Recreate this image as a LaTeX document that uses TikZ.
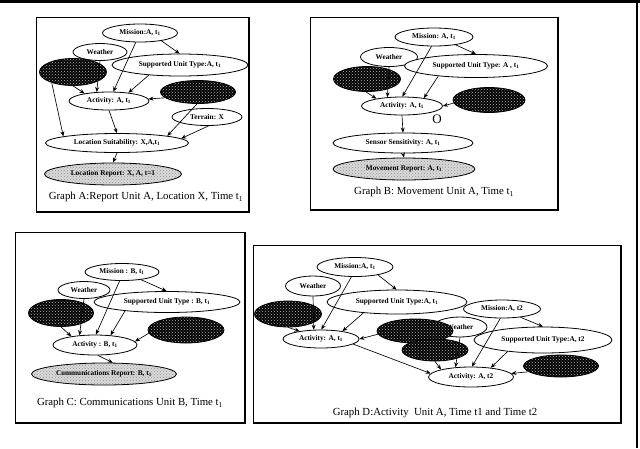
\documentclass[tikz,border=0pt]{standalone}
\usepackage{fontspec}
\setmainfont{Liberation Serif}
\usetikzlibrary{shapes.geometric,arrows.meta,patterns}
\tikzset{
 ell/.style={ellipse, draw, line width=0.8pt, inner sep=0pt, font=\fontsize{7.3}{8}\selectfont\bfseries},
 wn/.style={ell, fill=white},
 bn/.style={ell, preaction={fill=black}, pattern=crosshatch dots, pattern color=gray!55},
 gn/.style={ell, preaction={fill=gray!30}, pattern=crosshatch dots, pattern color=gray!85},
 sz/.style 2 args={minimum width=#1pt, minimum height=#2pt},
 arr/.style={-{Stealth[length=5pt,width=4pt]}, line width=0.65pt},
 panelbox/.style={draw, line width=1pt},
 shadowline/.style={line width=2.2pt},
 captxt/.style={font=\fontsize{10.8}{12}\selectfont, inner sep=0pt},
}
\newcommand{\tone}{t\textsubscript{1}}
\begin{document}
\begin{tikzpicture}[x=1pt,y=-1pt]
\useasboundingbox (0,0) rectangle (640,448);
\fill[white] (0,0) rectangle (640,448);
% outer frame
\draw[line width=3pt] (0,1.5) -- (640,1.5);
\draw[line width=1.5pt] (637,0) -- (637,448);

% ---------- Panel A ----------
\draw[panelbox] (36,17) rectangle (249,212);
\draw[shadowline] (249,17) -- (249,212) -- (36,212);
\node[wn, sz={75}{18}] (mA) at (140,33) {Mission:A, \tone};
\node[wn, sz={54}{17}] (wA) at (100,52) {Weather};
\node[wn, sz={136}{22}] (sA) at (180,65) {Supported Unit Type:A, \tone};
\node[bn, sz={67}{27}] (b1A) at (73,72) {};
\node[bn, sz={75}{23}] (b2A) at (198,92) {};
\node[wn, sz={80}{18}] (aA) at (109,101) {Activity: A, \tone};
\node[wn, sz={70}{17}] (tA) at (207,117) {Terrain: X};
\node[wn, sz={143}{19}] (lA) at (117,143) {Location Suitability: X,A,\tone};
\node[gn, sz={137}{22}] (rA) at (113,174) {Location Report: X, A, t=1};
\node[captxt] (cA) at (146,197) {Graph A:Report Unit A, Location X, Time \tone};
\draw[arr] (mA.340) -- (sA.92);
\draw[arr] (mA) -- (aA);
\draw[arr] (wA.south) -- (aA.144);
\draw[arr] (b1A.south) -- (aA.163);
\draw[arr] (sA.198) -- (aA.23);
\draw[arr] (b2A.190) -- (aA.3);
\draw[arr] (b1A.207) -- (lA.173);
\draw[arr] (aA.south) -- (lA.north);
\draw[arr] (b2A.265) -- (lA.8);
\draw[arr] (tA.-80) -- (lA.4);
\draw[arr] (lA.south) -- (rA.north);

% ---------- Panel B ----------
\draw[panelbox] (310,17) rectangle (558,210);
\draw[shadowline] (558,17) -- (558,210) -- (310,210);
\node[wn, sz={78}{18}] (mB) at (434,37) {Mission: A, \tone};
\node[wn, sz={57}{19}] (wB) at (389,57) {Weather};
\node[wn, sz={143}{23}] (sB) at (476,66) {Supported Unit Type: A , \tone};
\node[bn, sz={67}{25}] (b1B) at (367,79) {};
\node[wn, sz={81}{18}] (aB) at (402,106) {Activity: A, \tone};
\node[bn, sz={72}{25}] (b2B) at (489,100) {};
\node[font=\fontsize{13}{14}\selectfont, inner sep=0pt] (oB) at (437,119) {O};
\node[wn, sz={140}{20}] (snB) at (403,143) {Sensor Sensitivity: A, \tone};
\node[gn, sz={142}{22}] (rB) at (404,169) {Movement Report: A, \tone};
\node[captxt] (cB) at (434,192) {Graph B: Movement Unit A, Time \tone};
\draw[arr] (mB.340) -- (sB.90);
\draw[arr] (mB.255) -- (aB.88);
\draw[arr] (wB.south) -- (aB.149);
\draw[arr] (b1B.265) -- (aB.164);
\draw[arr] (sB.195) -- (aB.20);
\draw[arr] (b2B.185) -- (aB.0);
\draw[arr] (aB.south) -- (snB.north);
\draw[arr] (snB.south) -- (rB.north);

% ---------- Panel C ----------
\draw[panelbox] (15,232) rectangle (245,423);
\draw[shadowline] (245,232) -- (245,423) -- (15,423);
\node[wn, sz={74}{17}] (mC) at (122,272) {Mission : B, \tone};
\node[wn, sz={52}{17}] (wC) at (84,290) {Weather};
\node[wn, sz={146}{21}] (sC) at (167,302) {Supported Unit Type : B, \tone};
\node[bn, sz={65}{27}] (b1C) at (61,313) {};
\node[bn, sz={76}{26}] (b2C) at (186,330) {};
\node[wn, sz={84}{20}] (aC) at (95,345) {Activity : B, \tone};
\node[gn, sz={145}{22}] (rC) at (104,374) {Communications Report: B, \tone};
\node[captxt] (cC) at (130,403) {Graph C: Communications Unit B, Time \tone};
\draw[arr] (mC.338) -- (sC.92);
\draw[arr] (mC.255) -- (aC.85);
\draw[arr] (wC.south) -- (aC.148);
\draw[arr] (b1C.south) -- (aC.160);
\draw[arr] (sC.192) -- (aC.32);
\draw[arr] (b2C.185) -- (aC.5);
\draw[arr] (aC.-75) -- (rC.52);

% ---------- Panel D ----------
\draw[panelbox] (253,245) rectangle (621,423);
\draw[shadowline] (621,245) -- (621,423) -- (253,423);
\node[wn, sz={76}{19}] (m1D) at (355,267) {Mission:A, \tone};
\node[wn, sz={55}{20}] (w1D) at (313,286) {Weather};
\node[wn, sz={140}{24}] (s1D) at (397,302) {Supported Unit Type:A, \tone};
\node[bn, sz={67}{26}] (b1D) at (288,314) {};
\node[wn, sz={76}{18}] (a1D) at (321,339) {Activity: A, \tone};
\node[wn, sz={77}{18}] (m2D) at (502,309) {Mission:A, t2};
\node[wn, sz={54}{20}] (w2D) at (460,327) {Weather};
\node[wn, sz={138}{26}] (s2D) at (543,340) {Supported Unit Type:A, t2};
\node[bn, sz={76}{24}] (b2D) at (415,331) {};
\node[bn, sz={66}{22}] (b3D) at (435,350) {};
\node[bn, sz={75}{22}] (b4D) at (561,366) {};
\node[wn, sz={85}{20}] (a2D) at (471,377) {Activity: A, t2};
\node[captxt] (cD) at (435,413) {Graph D:Activity\ \ Unit A, Time t1 and Time t2};
\draw[arr] (m1D.341) -- (s1D.92);
\draw[arr] (m1D.250) -- (a1D.88);
\draw[arr] (w1D.south) -- (a1D.128);
\draw[arr] (b1D.south) -- (a1D.160);
\draw[arr] (s1D.198) -- (a1D.20);
\draw[arr] (b2D.185) -- (a1D.0);
\draw[arr] (a1D.351) -- (a2D.175);
\draw[arr] (m2D.336) -- (s2D.north);
\draw[arr] (m2D.260) -- (a2D.85);
\draw[arr] (w2D.south) -- (a2D.148);
\draw[arr] (b3D.south) -- (a2D.166);
\draw[arr] (s2D.198) -- (a2D.25);
\draw[arr] (b4D.190) -- (a2D.5);
\end{tikzpicture}
\end{document}
